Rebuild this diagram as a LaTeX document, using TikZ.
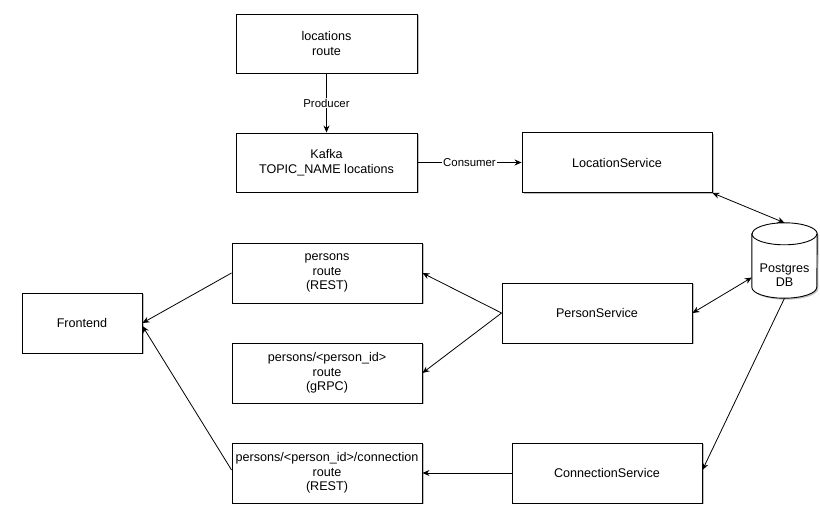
\documentclass[tikz,border=0pt]{standalone}
\usepackage{fontspec}
\setmainfont{Liberation Sans}
\usetikzlibrary{arrows.meta,shadows}

\tikzset{
  shade/.style={drop shadow={shadow xshift=1.5pt, shadow yshift=-1.5pt, opacity=0.25, fill=black}},
  box/.style={draw, line width=0.9pt, fill=white, minimum width=190pt, minimum height=60pt,
    inner sep=0pt, align=center, font=\fontsize{12.6}{14.5}\selectfont, shade},
  frame/.style={minimum width=65pt, minimum height=75pt, inner sep=0pt},
  txt/.style={align=center, inner sep=0pt, font=\fontsize{12.6}{14.5}\selectfont},
  link/.style={line width=0.8pt, -{Stealth[length=7pt,width=6pt]}},
  both/.style={line width=0.8pt, {Stealth[length=7pt,width=6pt]}-{Stealth[length=7pt,width=6pt]}},
  tag/.style={fill=white, inner sep=1pt, font=\fontsize{11.4}{13}\selectfont}
}

\begin{document}
\begin{tikzpicture}[x=1pt, y=-1pt]
  \useasboundingbox (0,0) rectangle (820,518);

  \node (locations) [box, minimum width=181pt, minimum height=59pt] at (326.5,43.5) {locations\\route};
  \node (kafka) [box, minimum width=181pt, minimum height=59pt] at (326.5,162.5) {Kafka\\TOPIC\_NAME locations};
  \node (locsvc) [box] at (617,162.5) {LocationService};
  \node (rest) [box] at (327,273) {persons\\route\\(REST)};
  \node (grpc) [box] at (327,373) {persons/<person\_id>\\route\\(gRPC)};
  \node (conn) [box] at (327,473) {persons/<person\_id>/connection\\route\\(REST)};
  \node (front) [box, minimum width=120pt] at (82,323) {Frontend};
  \node (persvc) [box] at (597,313) {PersonService};
  \node (consvc) [box] at (607,473) {ConnectionService};

  % database cylinder
  \node (db) [frame] at (784.5,260.5) {};
  \draw [line width=0.9pt, fill=white, shade]
    ([yshift=-11pt]db.north west) -- ([yshift=11pt]db.south west)
    arc [start angle=180, end angle=360, x radius=32.5pt, y radius=11pt]
    -- ([yshift=-11pt]db.north east)
    arc [start angle=0, end angle=180, x radius=32.5pt, y radius=11pt] -- cycle;
  \draw [line width=0.9pt] ([yshift=-11pt]db.north west)
    arc [start angle=180, end angle=360, x radius=32.5pt, y radius=11pt];
  \node (dbname) [txt] at (784.5,275) {Postgres\\DB};

  \draw [link] (locations) -- node [tag] {Producer} (kafka);
  \draw [link] (kafka) -- node [tag] {Consumer} (locsvc);
  \draw [both] (locsvc.south east) -- (db.north);
  \draw [both] (persvc.east) -- ([yshift=-17pt]db.west);
  \draw [link] (db.south) -- ([yshift=3pt]consvc.east);
  \draw [link] (persvc.west) -- (rest.east);
  \draw [link] (persvc.west) -- (grpc.east);
  \draw [link] (consvc) -- (conn);
  \draw [link] (rest.west) -- (front.east);
  \draw [link] ([yshift=3pt]conn.west) -- ([yshift=-3pt]front.east);

\end{tikzpicture}
\end{document}
